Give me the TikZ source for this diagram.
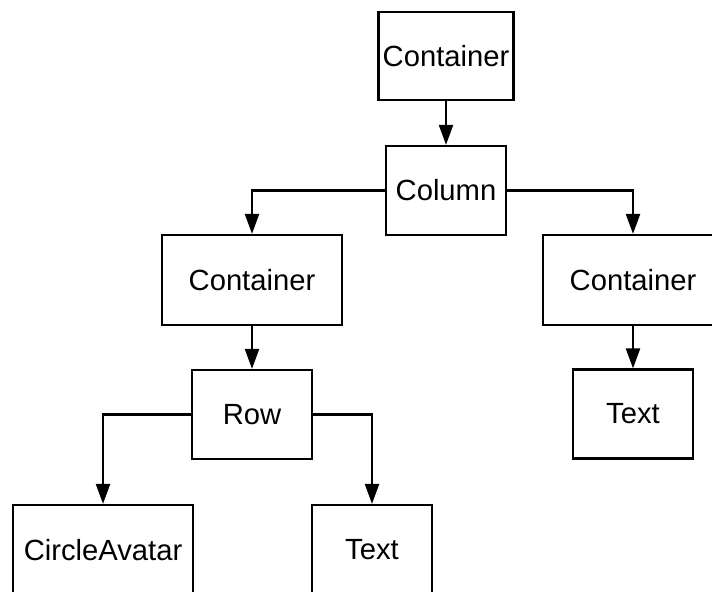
\documentclass[tikz,border=0pt]{standalone}
\usepackage{fontspec}
\setmainfont{Liberation Sans}
\usepackage{tikz}
\usetikzlibrary{arrows.meta, positioning}

\tikzset{
  widget/.style={draw=black, line width=1.1pt, inner sep=0pt,
    font=\fontsize{14.6}{17}\selectfont},
  link/.style={line width=1.1pt, -{Triangle[length=10pt, width=7pt]}}
}

\begin{document}
\begin{tikzpicture}[x=0.5pt, y=-0.5pt]
\useasboundingbox (0,0) rectangle (712,592);

% widget tree
\node[widget, minimum width=67.5pt, minimum height=44pt] (root) at (446,56) {Container};
\node[widget, minimum width=60pt, minimum height=44.5pt] (column) at (446,190.5) {Column};
\node[widget, minimum width=90pt, minimum height=45pt] (leftbox) at (252,280) {Container};
\node[widget, minimum width=90pt, minimum height=45pt] (rightbox) at (633,280) {Container};
\node[widget, minimum width=60pt, minimum height=44.5pt] (righttext) at (633,414) {Text};
\node[widget, minimum width=60pt, minimum height=44.5pt] (row) at (252,414.5) {Row};
\node[widget, minimum width=90pt, minimum height=45pt] (avatar) at (103,550) {CircleAvatar};
\node[widget, minimum width=60pt, minimum height=45pt] (lefttext) at (372,550) {Text};

% connectors
\draw[link] (root) -- (column);
\draw[link] (column.west) -| (leftbox.north);
\draw[link] (column.east) -| (rightbox.north);
\draw[link] (rightbox) -- (righttext);
\draw[link] (leftbox) -- (row);
\draw[link] (row.west) -| (avatar.north);
\draw[link] (row.east) -| (lefttext.north);
\end{tikzpicture}
\end{document}
